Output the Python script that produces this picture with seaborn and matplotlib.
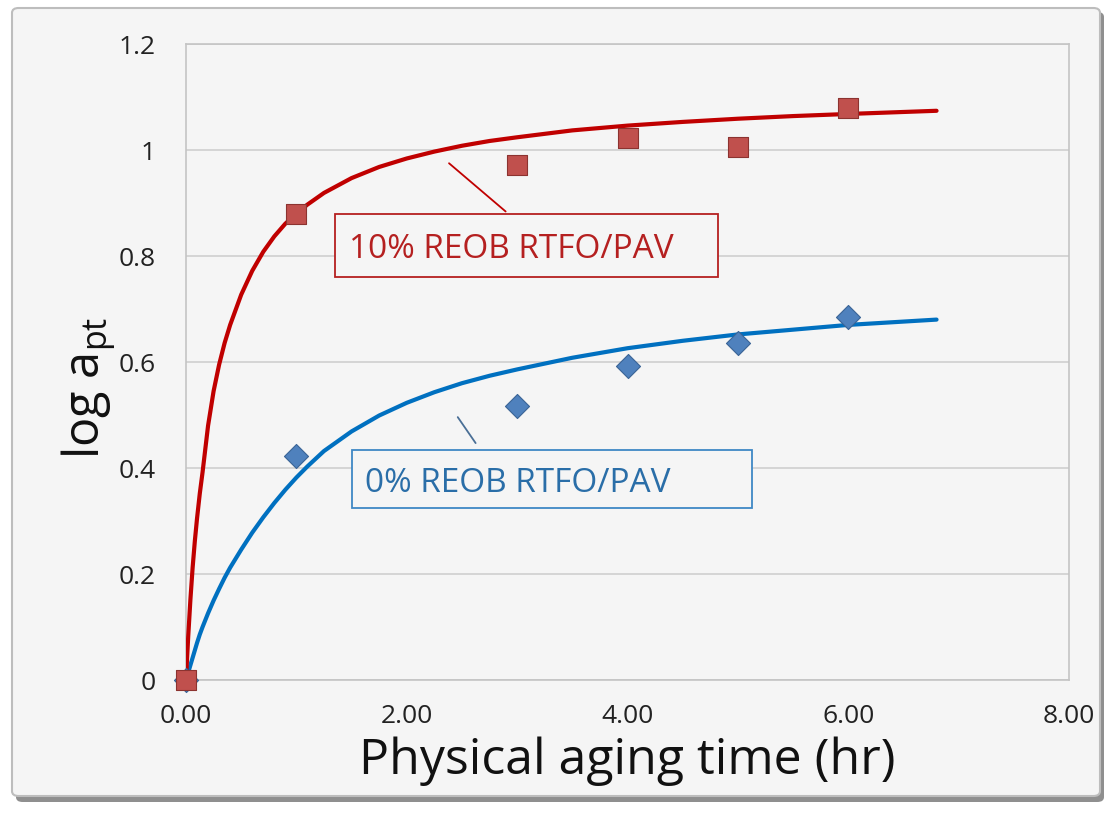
import matplotlib
matplotlib.use("Agg")
import matplotlib.pyplot as plt
import seaborn as sns
import pandas as pd
from matplotlib.patches import Rectangle, FancyBboxPatch

# ---- data ----
time_points = [0, 1, 3, 4, 5, 6]
reob10_points = [0.0, 0.879, 0.972, 1.023, 1.006, 1.079]
reob0_points = [0.0, 0.423, 0.517, 0.592, 0.636, 0.685]

curve_time = [0, 0.01, 0.02, 0.04, 0.06, 0.08, 0.1, 0.125, 0.15, 0.2, 0.25, 0.3,
              0.35, 0.4, 0.5, 0.6, 0.7, 0.8, 0.9, 1.0, 1.1, 1.25, 1.5, 1.75, 2.0,
              2.25, 2.5, 2.75, 3.0, 3.5, 4.0, 4.5, 5.0, 5.5, 6.0, 6.4, 6.8]
reob10_curve = [0.0, 0.042, 0.082, 0.152, 0.212, 0.262, 0.305, 0.352, 0.392, 0.480,
                0.545, 0.595, 0.636, 0.670, 0.727, 0.772, 0.808, 0.837, 0.861,
                0.880, 0.897, 0.919, 0.947, 0.968, 0.984, 0.997, 1.008, 1.017,
                1.024, 1.037, 1.046, 1.053, 1.059, 1.064, 1.068, 1.071, 1.074]
reob0_curve = [0.0, 0.007, 0.014, 0.028, 0.042, 0.056, 0.070, 0.086, 0.100, 0.126,
               0.150, 0.172, 0.193, 0.212, 0.246, 0.278, 0.307, 0.334, 0.359,
               0.382, 0.403, 0.432, 0.469, 0.499, 0.523, 0.543, 0.560, 0.574,
               0.586, 0.608, 0.626, 0.640, 0.652, 0.661, 0.670, 0.675, 0.680]

x_ticks = [0, 2, 4, 6, 8]
x_tick_labels = ["0.00", "2.00", "4.00", "6.00", "8.00"]
y_ticks = [0, 0.2, 0.4, 0.6, 0.8, 1.0, 1.2]
y_tick_labels = ["0", "0.2", "0.4", "0.6", "0.8", "1", "1.2"]

label_10 = "10% REOB RTFO/PAV"
label_0 = "0% REOB RTFO/PAV"

# ---- style ----
sns.set_theme(style="white")
plt.rcParams["font.family"] = ["Open Sans", "DejaVu Sans"]

RED_LINE = "#C00000"
RED_MARK = "#C0504D"
RED_TEXT = "#B52020"
BLUE_LINE = "#0070C0"
BLUE_MARK = "#4F81BD"
BLUE_TEXT = "#2A6EA8"
BG = "#F5F5F5"

W, H = 1107, 814
fig = plt.figure(figsize=(W / 100, H / 100), dpi=100)
fig.patch.set_facecolor("white")

# outer frame with shadow
shadow = FancyBboxPatch((16 / W, 12 / H), 1088 / W, 790 / H,
                        boxstyle="round,pad=0,rounding_size=0.006",
                        transform=fig.transFigure, facecolor="#8f8f8f",
                        edgecolor="none", zorder=0)
frame = FancyBboxPatch((12 / W, 18 / H), 1088 / W, 788 / H,
                       boxstyle="round,pad=0,rounding_size=0.006",
                       transform=fig.transFigure, facecolor=BG,
                       edgecolor="#bdbdbd", linewidth=1.5, zorder=1)
fig.patches.extend([shadow, frame])

ax = fig.add_axes([186 / W, 1 - 680 / H, (1069 - 186) / W, (680 - 44) / H])
ax.set_facecolor(BG)
ax.set_zorder(2)

df_curve = pd.DataFrame({"t": curve_time, "r": reob10_curve, "b": reob0_curve})
df_pts = pd.DataFrame({"t": time_points, "r": reob10_points, "b": reob0_points})

sns.lineplot(data=df_curve, x="t", y="b", ax=ax, color=BLUE_LINE, linewidth=3.0,
             zorder=3, estimator=None, sort=False)
sns.lineplot(data=df_curve, x="t", y="r", ax=ax, color=RED_LINE, linewidth=3.0,
             zorder=3, estimator=None, sort=False)
for ln in ax.lines:
    ln.set_solid_joinstyle("round")
sns.scatterplot(data=df_pts, x="t", y="b", ax=ax, marker="D", s=150,
                color=BLUE_MARK, edgecolor="#3a6496", linewidth=0.8, zorder=4)
sns.scatterplot(data=df_pts, x="t", y="r", ax=ax, marker="s", s=190,
                color=RED_MARK, edgecolor="#8c3330", linewidth=0.8, zorder=5)
for coll in ax.collections:
    coll.set_clip_on(False)

ax.set_xlim(0, 8)
ax.set_ylim(0, 1.2)
ax.set_xticks(x_ticks)
ax.set_xticklabels(x_tick_labels)
ax.set_yticks(y_ticks)
ax.set_yticklabels(y_tick_labels)
ax.tick_params(axis="both", labelsize=19, colors="#222222", length=0)
ax.tick_params(axis="x", pad=17)
ax.tick_params(axis="y", pad=22)

ax.yaxis.grid(True, color="#cfcfcf", linewidth=1.2)
ax.xaxis.grid(False)
ax.set_axisbelow(True)
for sp in ax.spines.values():
    sp.set_visible(True)
    sp.set_color("#c4c4c4")
    sp.set_linewidth(1.2)

ax.set_xlabel("Physical aging time (hr)", fontsize=36, color="#111111", labelpad=6)
ax.set_ylabel(r"log a$_{\mathregular{pt}}$", fontsize=35, color="#111111")
ax.yaxis.set_label_coords(-0.078, 0.46)

# annotations
ax.plot([2.383, 2.896], [0.975, 0.884], color=RED_LINE, linewidth=1.3, zorder=3)
ax.add_patch(Rectangle((1.348, 0.760), 4.824 - 1.348, 0.879 - 0.760,
                       facecolor=BG, edgecolor=RED_TEXT, linewidth=1.3, zorder=6))
ax.text(1.475, 0.796, label_10, fontsize=24, color=RED_TEXT, ha="left",
        va="baseline", zorder=7)

ax.plot([2.462, 2.624], [0.496, 0.447], color="#4a6f96", linewidth=1.3, zorder=3)
ax.add_patch(Rectangle((1.502, 0.325), 5.131 - 1.502, 0.434 - 0.325,
                       facecolor=BG, edgecolor="#3F88C5", linewidth=1.3, zorder=6))
ax.text(1.62, 0.355, label_0, fontsize=24, color=BLUE_TEXT, ha="left",
        va="baseline", zorder=7)

fig.savefig("out.png", dpi=100, facecolor=fig.get_facecolor())
